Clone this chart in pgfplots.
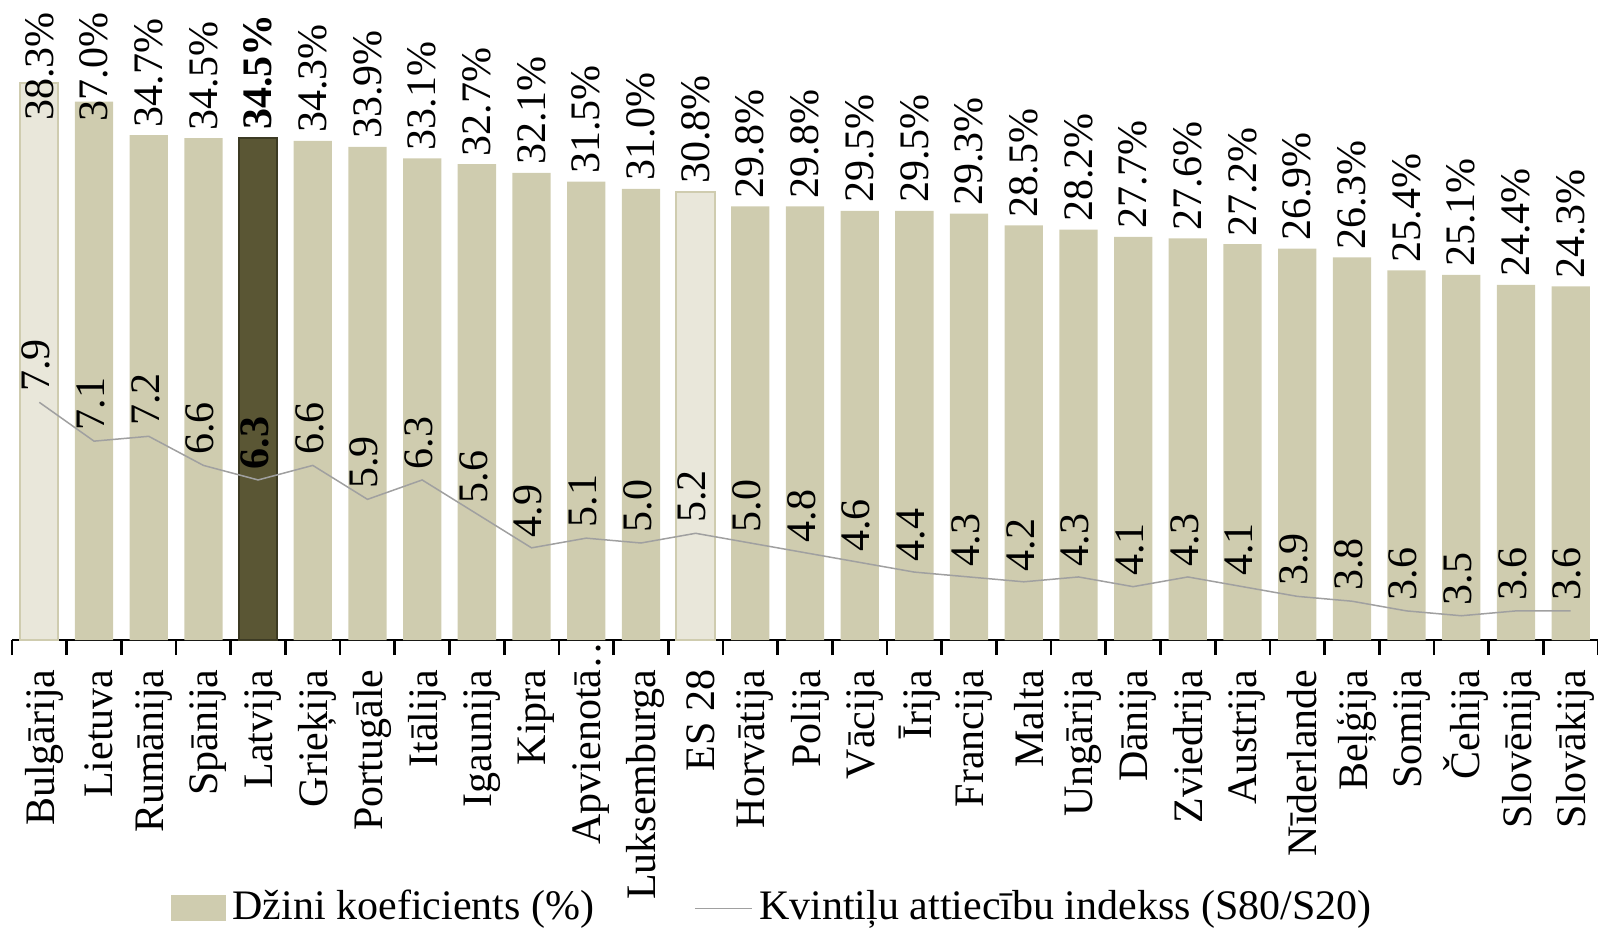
\documentclass[border=0pt]{standalone}
\usepackage{fontspec}
\setmainfont{Liberation Serif}
\usepackage{pgfplots}
\usepackage{pgfplotstable}
\pgfplotsset{compat=1.18}

\definecolor{barc}{RGB}{207,204,175}
\definecolor{barlight}{RGB}{233,231,218}
\definecolor{bardark}{RGB}{90,86,52}
\definecolor{bardarkedge}{RGB}{60,58,35}
\definecolor{linec}{RGB}{160,160,160}

% idx, Gini coefficient (%), S80/S20
\pgfplotstableread{
idx gini kvint
0  38.3 7.9
1  37.0 7.1
2  34.7 7.2
3  34.5 6.6
4  34.5 6.3
5  34.3 6.6
6  33.9 5.9
7  33.1 6.3
8  32.7 5.6
9  32.1 4.9
10 31.5 5.1
11 31.0 5.0
12 30.8 5.2
13 29.8 5.0
14 29.8 4.8
15 29.5 4.6
16 29.5 4.4
17 29.3 4.3
18 28.5 4.2
19 28.2 4.3
20 27.7 4.1
21 27.6 4.3
22 27.2 4.1
23 26.9 3.9
24 26.3 3.8
25 25.4 3.6
26 25.1 3.5
27 24.4 3.6
28 24.3 3.6
}\data

\pgfplotsset{
  common/.style={
    scale only axis, width=475.8pt, height=174.6pt,
    xmin=-0.5, xmax=28.5,
  },
  barlab/.style={
    nodes near coords={\pgfmathprintnumber[fixed,fixed zerofill,precision=1,assume math mode=true]{\pgfplotspointmeta}\%},
    visualization depends on={y \as \gval},
    every node near coord/.append style={
      anchor=west, inner sep=0pt, text=black,
      yshift={(2.2-max(0,\gval-35.1)*4.365)*1pt}, rotate=90},
  },
  linelab/.style={
    nodes near coords={\pgfmathprintnumber[fixed,fixed zerofill,precision=1,assume math mode=true]{\pgfplotspointmeta}},
    every node near coord/.append style={
      anchor=west, inner sep=0pt, text=black, yshift=3pt, xshift=-1pt, rotate=90},
  },
}

\begin{document}
\fontsize{12.6}{15}\selectfont
\begin{tikzpicture}
\useasboundingbox (-3.6pt,-86.4pt) rectangle (475.8pt,192pt);
\begin{axis}[common,
  ymin=0, ymax=40,
  axis x line*=bottom, axis y line=none,
  x axis line style={-, black, line width=0.8pt},
  xtick={0,...,28},
  xticklabels={Bulgārija, Lietuva, Rumānija, Spānija, Latvija, Grieķija, Portugāle, Itālija, Igaunija, Kipra, Apvienotā\rlap{…}, Luksemburga, ES 28, Horvātija, Polija, Vācija, Īrija, Francija, Malta, Ungārija, Dānija, Zviedrija, Austrija, Nīderlande, Beļģija, Somija, Čehija, Slovēnija, Slovākija},
  major tick length=0pt,
  minor xtick={-0.5,0.5,...,28.5},
  minor tick length=4.5pt, tick align=outside,
  minor tick style={black, line width=0.8pt},
  xticklabel style={yshift=-8.7pt, xshift=1.5pt, rotate=90, anchor=east, inner sep=0pt},
  ybar, bar width=0.7, bar shift=0pt,
]
\addplot[fill=barc, draw=none, barlab,
  x filter/.expression={(x==0||x==4||x==12) ? nan : x}]
  table[x=idx, y=gini]{\data};
\addplot[fill=barlight, draw=barc, line width=0.6pt, barlab,
  x filter/.expression={(x==0||x==12) ? x : nan}]
  table[x=idx, y=gini]{\data};
\addplot[fill=bardark, draw=bardarkedge, line width=0.6pt, barlab,
  every node near coord/.append style={font=\bfseries},
  x filter/.expression={(x==4) ? x : nan}]
  table[x=idx, y=gini]{\data};
\end{axis}

\begin{axis}[common,
  ymin=3, ymax=15,
  hide axis,
  legend style={at={(0.481,-0.461)}, anchor=center, draw=none, fill=none,
    legend columns=2, /tikz/every even column/.append style={column sep=28pt},
    inner sep=0pt},
  legend cell align=left,
]
\addlegendimage{legend image code/.code={\fill[barc] (0pt,-3.75pt) rectangle (16pt,3.75pt);}}
\addlegendentry{Džini koeficients (\%)}
\addplot[linec, line width=0.45pt, mark=none]
  table[x=idx, y=kvint]{\data};
\addlegendentry{Kvintiļu attiecību indekss (S80/S20)}
\addplot[draw=none, mark=none, linelab, forget plot,
  x filter/.expression={(x==4) ? nan : x}]
  table[x=idx, y=kvint]{\data};
\addplot[draw=none, mark=none, linelab, forget plot,
  every node near coord/.append style={font=\bfseries},
  x filter/.expression={(x==4) ? x : nan}]
  table[x=idx, y=kvint]{\data};
\end{axis}
\end{tikzpicture}
\end{document}
